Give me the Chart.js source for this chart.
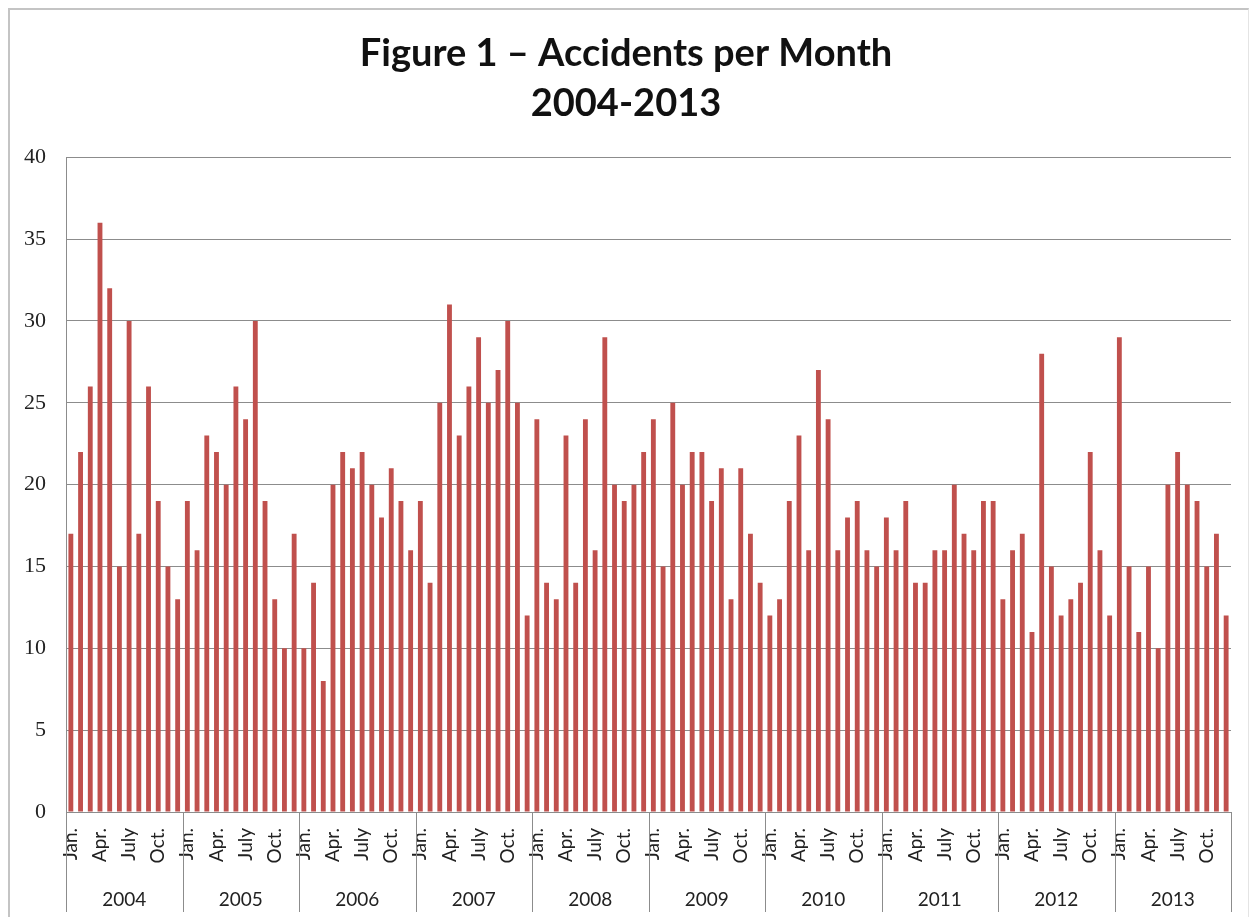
<!DOCTYPE html>
<html>
<head>
<meta charset="utf-8">
<script src="https://cdn.jsdelivr.net/npm/chart.js@4/dist/chart.umd.min.js"></script>
<style>
  html, body { margin: 0; padding: 0; background: #ffffff; }
  #wrap { position: relative; width: 1252px; height: 917px; overflow: hidden; background: #fff; }
  #frame { position: absolute; left: 8px; top: 8px; width: 1238px; height: 930px;
           border-left: 2px solid #c4c4c4; border-top: 2px solid #c4c4c4; border-right: 1px solid #e4e4e4; }
  #c { position: absolute; left: 0; top: 0; }
</style>
</head>
<body>
<div id="wrap">
  <div id="frame"></div>
  <canvas id="c" width="1252" height="917"></canvas>
</div>
<script>
// ---- Data ----
const years = ['2004', '2005', '2006', '2007', '2008', '2009', '2010', '2011', '2012', '2013'];
const monthNames = ['Jan.', 'Feb.', 'Mar.', 'Apr.', 'May', 'June', 'July', 'Aug.', 'Sept.', 'Oct.', 'Nov.', 'Dec.'];
const yTicks = [0, 5, 10, 15, 20, 25, 30, 35, 40];

const accidents2004 = [17, 22, 26, 36, 32, 15, 30, 17, 26, 19, 15, 13];
const accidents2005 = [19, 16, 23, 22, 20, 26, 24, 30, 19, 13, 10, 17];
const accidents2006 = [10, 14, 8, 20, 22, 21, 22, 20, 18, 21, 19, 16];
const accidents2007 = [19, 14, 25, 31, 23, 26, 29, 25, 27, 30, 25, 12];
const accidents2008 = [24, 14, 13, 23, 14, 24, 16, 29, 20, 19, 20, 22];
const accidents2009 = [24, 15, 25, 20, 22, 22, 19, 21, 13, 21, 17, 14];
const accidents2010 = [12, 13, 19, 23, 16, 27, 24, 16, 18, 19, 16, 15];
const accidents2011 = [18, 16, 19, 14, 14, 16, 16, 20, 17, 16, 19, 19];
const accidents2012 = [13, 16, 17, 11, 28, 15, 12, 13, 14, 22, 16, 12];
const accidents2013 = [29, 15, 11, 15, 10, 20, 22, 20, 19, 15, 17, 12];

const allYears = [accidents2004, accidents2005, accidents2006, accidents2007, accidents2008,
                  accidents2009, accidents2010, accidents2011, accidents2012, accidents2013];
const values = [].concat(...allYears);
const categories = [];
years.forEach(y => monthNames.forEach(m => categories.push(m)));

// ---- Plugin: year separator lines under the axis ----
const yearSeparators = {
  id: 'yearSeparators',
  afterDraw(chart) {
    const xs = chart.scales.x, x2 = chart.scales.x2;
    const ctx = chart.ctx;
    ctx.save();
    ctx.strokeStyle = '#8c8c8c';
    ctx.lineWidth = 1;
    const n = years.length;
    for (let k = 0; k <= n; k++) {
      const px = Math.round(xs.left + (xs.right - xs.left) * k / n) + 0.5;
      ctx.beginPath();
      ctx.moveTo(px, xs.top);
      ctx.lineTo(px, x2.bottom);
      ctx.stroke();
    }
    ctx.restore();
  }
};

new Chart(document.getElementById('c'), {
  type: 'bar',
  data: {
    labels: categories,
    datasets: [{
      label: 'Accidents',
      data: values,
      backgroundColor: '#C0504D',
      borderColor: '#C0504D',
      borderWidth: 0,
      barPercentage: 0.5,
      categoryPercentage: 1.0
    }]
  },
  options: {
    responsive: false,
    animation: false,
    devicePixelRatio: 1,
    layout: { padding: { left: 0, right: 0, top: 0, bottom: 5 } },
    plugins: {
      legend: { display: false },
      tooltip: { enabled: false },
      title: {
        display: true,
        text: ['Figure 1 \u2013 Accidents per Month', '2004-2013'],
        color: '#111',
        font: { family: 'Lato', size: 38, weight: 'bold', lineHeight: 1.32 },
        padding: { top: 29, bottom: 28 }
      }
    },
    scales: {
      x: {
        type: 'category',
        position: 'bottom',
        offset: true,
        grid: { display: false, drawTicks: false },
        border: { display: true, color: '#8c8c8c', width: 1 },
        ticks: {
          autoSkip: false,
          minRotation: 90,
          maxRotation: 90,
          padding: 16,
          color: '#222',
          font: { family: 'Lato', size: 19 },
          callback: (v, i) => (i % 3 === 0 ? monthNames[i % 12] : '')
        },
        afterFit: s => { s.height = 60; s.paddingLeft = 0; s.paddingRight = 0; }
      },
      x2: {
        type: 'category',
        labels: years,
        position: 'bottom',
        offset: true,
        grid: { display: false, drawTicks: false },
        border: { display: false },
        ticks: {
          padding: 16,
          color: '#222',
          font: { family: 'Lato', size: 19 }
        },
        afterFit: s => { s.height = 40; s.paddingLeft = 0; s.paddingRight = 0; }
      },
      y: {
        min: 0,
        max: 40,
        afterBuildTicks: s => { s.ticks = yTicks.map(v => ({ value: v })); },
        grid: { color: '#8c8c8c', lineWidth: 1, drawTicks: false },
        border: { display: true, color: '#8c8c8c', width: 1 },
        ticks: {
          padding: 20,
          color: '#222',
          font: { family: 'Liberation Serif', size: 22 }
        },
        afterFit: s => { s.width = 66; }
      },
      yRightSpacer: {
        position: 'right',
        min: 0,
        max: 40,
        grid: { display: false, drawTicks: false },
        border: { display: false },
        ticks: { display: false },
        afterFit: s => { s.width = 21; }
      }
    }
  },
  plugins: [yearSeparators]
});
</script>
</body>
</html>
